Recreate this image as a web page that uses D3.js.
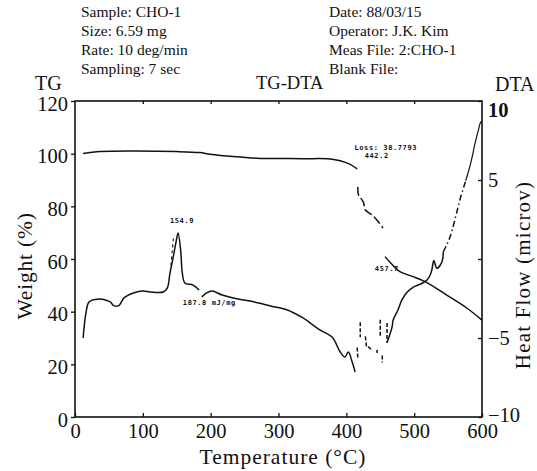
<!DOCTYPE html>
<html>
<head>
<meta charset="utf-8">
<script src="https://cdn.jsdelivr.net/npm/d3@7"></script>
<style>
  body { margin: 0; background: #fff; }
  svg { display: block; }
</style>
</head>
<body>
<div id="chart"></div>
<script>
// header lines
const infoLeft = ["Sample: CHO-1", "Size: 6.59 mg", "Rate: 10 deg/min", "Sampling: 7 sec"];
const infoRight = ["Date: 88/03/15", "Operator: J.K. Kim", "Meas File: 2:CHO-1", "Blank File:"];

const tempTicks = [0, 100, 200, 300, 400, 500, 600];
const weightTicks = [0, 20, 40, 60, 80, 100, 120];
const heatTicks = [-10, -5, 0, 5, 10];

// TG (weight %), [temperature, weight]
const tgBefore = [[12, 100.1], [37, 100.8], [86, 101.0], [150, 100.8], [184, 100.4], [199, 99.8], [233, 98.9],
    [273, 98.2], [288, 98.2], [336, 98.1], [376, 98.0], [391, 97.3], [405, 96.0], [416, 94.2]];
const tgDrop = [[417, 87.4], [418, 84.3], [425, 81.7], [428, 78.6], [438, 76.7], [445, 74.8], [454, 71.8]];
const tgAfter = [[457, 60.9], [465, 58.6], [479, 55.2], [497, 53.4], [516, 51.4], [548, 46.3], [578, 41.3], [600, 36.8]];

// DTA (heat flow), [temperature, microV]
const dtaStart = [[12, -5.0], [14.5, -3.9], [17, -3.2], [20, -2.75], [25, -2.6], [32, -2.55], [37, -2.53], [45, -2.6],
    [52, -2.72], [57, -2.95], [64, -2.97], [68, -2.75], [72, -2.47], [78, -2.3], [86, -2.15], [100, -2.03],
    [111, -2.09], [130, -2.09], [136, -1.84], [140, -0.89], [144.5, 0.06], [149, 1.08], [152, 1.65],
    [156, 0.44], [158, -0.82], [162, -1.52], [174, -1.65], [183, -1.96]];
const dtaMiddle = [[187, -2.41], [194, -2.15], [202, -2.03], [217, -2.28], [233, -2.47], [258, -2.66], [277, -2.85],
    [288, -2.97], [313, -3.23], [336, -3.73], [361, -4.49], [379, -4.94], [391, -5.89], [398, -6.2],
    [403, -5.89], [408.6, -6.52], [413, -7.15]];
// noisy bits between 415 and 460: [t1, v1, t2, v2]
const dtaNoise = [[416, -5.6, 417, -6.3], [420.5, -4.0, 420.5, -4.95], [428, -4.9, 430, -5.65], [432, -5.55, 439, -5.8],
    [445, -5.75, 445.5, -5.95], [450, -3.85, 450, -4.95], [453, -6.1, 453, -6.55], [460, -4.05, 460, -5.3]];
const dtaRise = [[460, -5.3], [467.5, -4.3], [469, -3.86], [476, -3.23], [482, -2.59], [489.5, -2.1], [499, -1.78],
    [511, -1.55], [519, -1.33], [523.6, -1.01], [526, -0.7], [529, -0.1], [533.5, -0.59], [541, -0.17], [543, 0.46]];
const dtaRiseDashed = [[543, 0.46], [548, 0.89], [553, 1.41], [558, 2.15], [563, 2.99], [568, 3.84], [576, 4.95]];
const dtaTop = [[576, 4.95], [583, 6.0], [590, 7.36], [595, 8.21], [597.5, 8.61], [600, 8.73]];
// short dashed flank left of the 154.9 peak
const dtaFlank = [[141.5, -0.4], [143.5, 0.6], [145, 1.3]];

const notes = [
    { t: 140, v: 73.5, text: "154.9" },
    { t: 159, v: 42.5, text: "187.8 mJ/mg" },
    { t: 412, v: 101.5, text: "Loss:  38.7793" },
    { t: 427, v: 98.2, text: "442.2" },
    { t: 442, v: 55.5, text: "457.7" }
];

const W = 537, H = 471;
const serif = "'Liberation Serif', 'Times New Roman', serif";
const x = d3.scaleLinear().domain([0, 600]).range([75, 482]);
const yTG = d3.scaleLinear().domain([0, 120]).range([417, 101]);
const yDTA = d3.scaleLinear().domain([-10, 10]).range([417, 101]);

const svg = d3.select("#chart").append("svg").attr("width", W).attr("height", H)
    .style("font-family", serif);

function label(px, py, size, str) {
    return svg.append("text").attr("x", px).attr("y", py)
        .style("font-family", serif).style("font-size", size + "px").attr("fill", "#111").text(str);
}

function drawHeader() {
    infoLeft.forEach((d, i) => label(81, 17 + i * 19, 15.5, d));
    infoRight.forEach((d, i) => label(329, 17 + i * 19, 15.5, d));

    label(35, 90, 20, "TG");
    label(256, 89, 18.5, "TG-DTA");
    label(495, 91, 20, "DTA");
}

function drawAxes() {
    const left = svg.append("g").attr("transform", "translate(75,0)")
        .call(d3.axisLeft(yTG).tickValues(weightTicks).tickSizeInner(4).tickSizeOuter(0).tickPadding(3));
    left.selectAll("text").attr("dy", "0.45em");

    svg.append("g").attr("transform", "translate(0,417)")
        .call(d3.axisBottom(x).tickValues(tempTicks).tickSizeInner(-4).tickSizeOuter(0).tickPadding(6));

    svg.append("g").attr("transform", "translate(0,101)")
        .call(d3.axisTop(x).tickValues(tempTicks.slice(1, -1)).tickSizeInner(-3).tickSizeOuter(0).tickFormat(""));

    const right = svg.append("g").attr("transform", "translate(482,0)")
        .call(d3.axisRight(yDTA).tickValues(heatTicks).tickSizeInner(-4).tickSizeOuter(0).tickPadding(6)
            .tickFormat(d => d === 0 ? "" : d3.format("d")(d)));
    right.selectAll(".tick").filter(d => d === 10).select("text")
        .attr("dy", "0.75em").style("font-weight", "bold");
    right.selectAll(".tick").filter(d => d === -10).select("text").attr("dy", "0.2em");

    svg.selectAll(".domain").remove();
    svg.selectAll(".tick line").attr("stroke", "#111").attr("stroke-width", 1.3);
    svg.selectAll(".tick text").style("font-family", serif).style("font-size", "20.5px").attr("fill", "#111");

    svg.append("rect").attr("x", 75).attr("y", 101).attr("width", 407).attr("height", 316)
        .attr("fill", "none").attr("stroke", "#111").attr("stroke-width", 1.6);

    label(24, 266, 21.5, "Weight (%)").attr("text-anchor", "middle").style("letter-spacing", "0.8px")
        .attr("transform", "rotate(-90,24,266)").attr("dy", "0.35em");
    label(283, 464, 21.5, "Temperature (°C)").attr("text-anchor", "middle").style("letter-spacing", "1px");
    label(523, 275, 21, "Heat Flow (microv)").attr("text-anchor", "middle").style("letter-spacing", "1.2px")
        .attr("transform", "rotate(-90,523,275)").attr("dy", "0.35em");
}

function drawCurves() {
    const tgLine = d3.line().x(d => x(d[0])).y(d => yTG(d[1])).curve(d3.curveCatmullRom);
    const dtaLine = d3.line().x(d => x(d[0])).y(d => yDTA(d[1])).curve(d3.curveCatmullRom);

    const g = svg.append("g").attr("fill", "none").attr("stroke", "#111").attr("stroke-width", 1.5);
    g.append("path").attr("d", tgLine(tgBefore));
    g.append("path").attr("d", tgLine(tgDrop)).attr("stroke-dasharray", "9,3");
    g.append("path").attr("d", tgLine(tgAfter));

    g.append("path").attr("d", dtaLine(dtaStart));
    g.append("path").attr("d", dtaLine(dtaMiddle));
    g.append("path").attr("d", dtaLine(dtaRise));
    g.append("path").attr("d", dtaLine(dtaRiseDashed)).attr("stroke-dasharray", "6,3,1.5,3");
    g.append("path").attr("d", dtaLine(dtaTop)).attr("stroke-width", 1.2);
    g.append("path").attr("d", dtaLine(dtaFlank)).attr("stroke-dasharray", "3,3").attr("stroke-width", 1.1);

    g.selectAll("line.noise").data(dtaNoise).enter().append("line").attr("class", "noise")
        .attr("x1", d => x(d[0])).attr("y1", d => yDTA(d[1]))
        .attr("x2", d => x(d[2])).attr("y2", d => yDTA(d[3]))
        .attr("stroke-dasharray", "4,2");
}

function drawNotes() {
    svg.append("g").selectAll("text").data(notes).enter().append("text")
        .attr("x", d => x(d.t)).attr("y", d => yTG(d.v)).attr("fill", "#111")
        .style("font-family", "'DejaVu Sans Mono', monospace").style("font-size", "7px")
        .style("font-weight", "bold").style("letter-spacing", "0.6px")
        .text(d => d.text);
}

drawHeader();
drawAxes();
drawCurves();
drawNotes();
</script>
</body>
</html>
